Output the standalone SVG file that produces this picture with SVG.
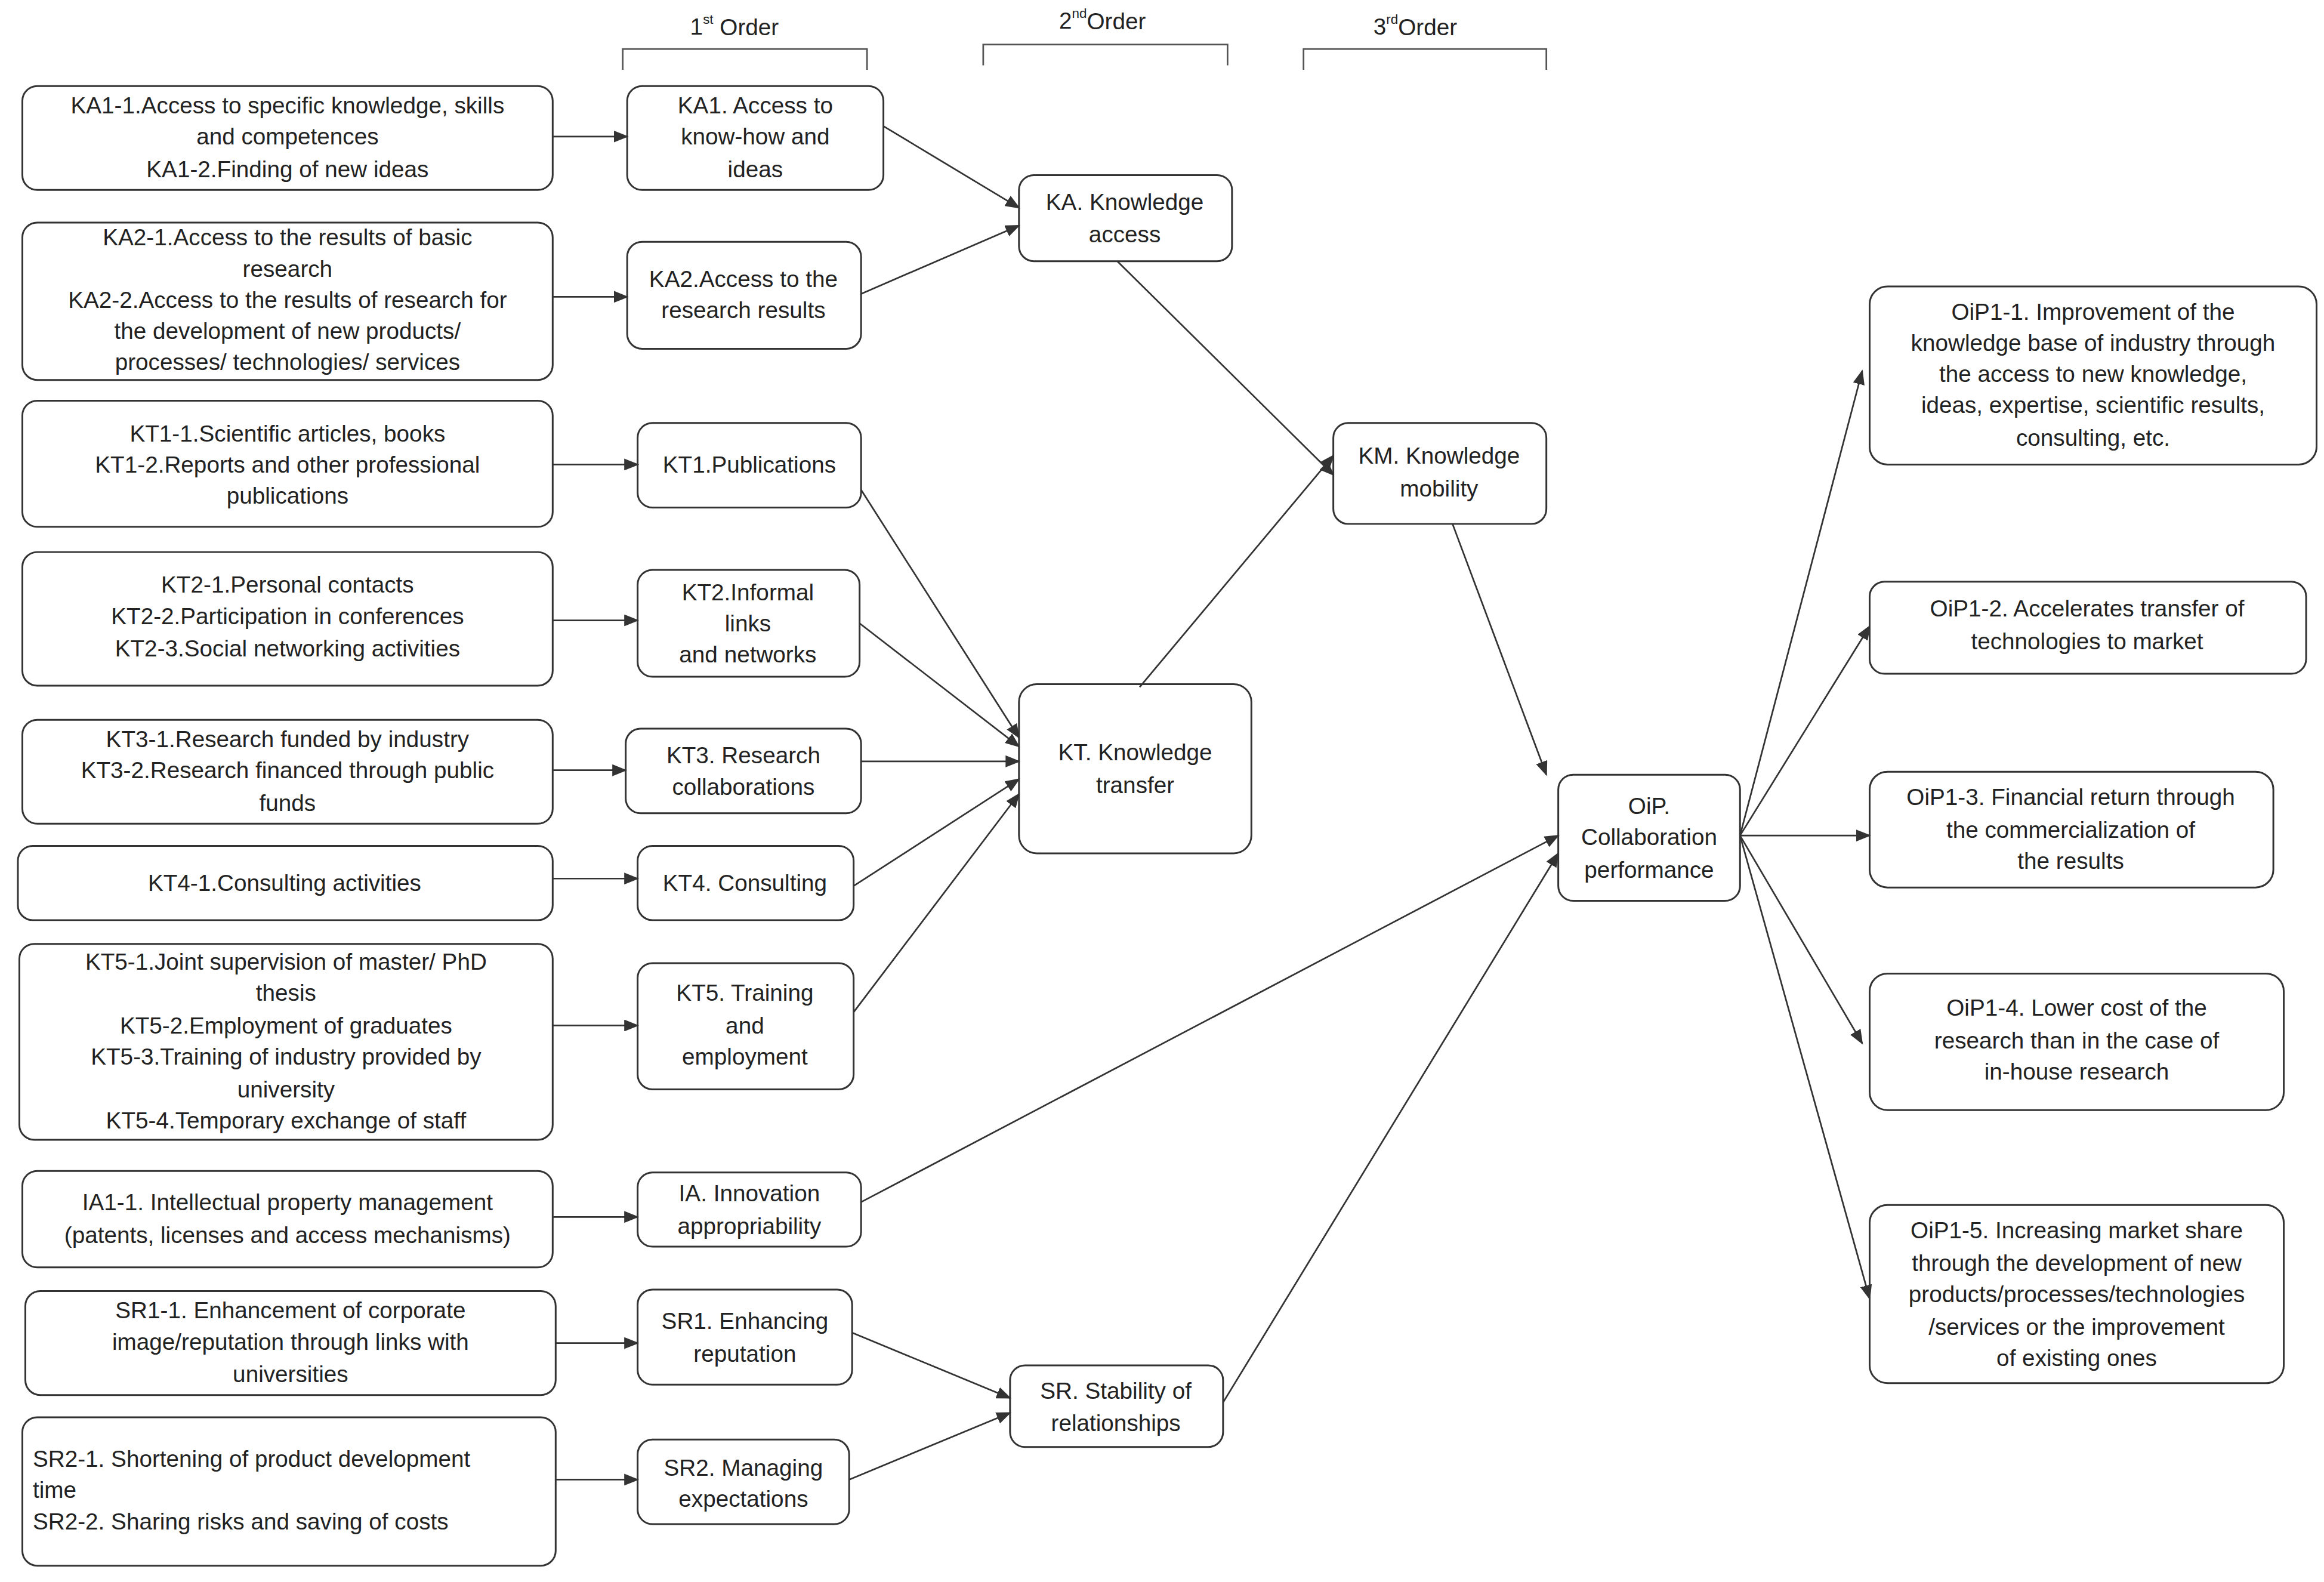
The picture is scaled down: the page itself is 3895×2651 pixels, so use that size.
<svg xmlns="http://www.w3.org/2000/svg" width="3895" height="2651" viewBox="0 0 3895 2651">
<defs>
<marker id="ah" markerWidth="10" markerHeight="8" refX="9" refY="4" orient="auto" markerUnits="userSpaceOnUse"><path d="M0,0 L10,4 L0,8 Z" fill="#333"/></marker>
<style>
rect{fill:#fff;stroke:#333;stroke-width:1.2}
text{font-family:"Liberation Sans",Arial,sans-serif;font-size:15.5px;fill:#222;text-anchor:middle;dominant-baseline:central}
.l{text-anchor:start}
#connectors line{stroke:#333;stroke-width:1.1;marker-end:url(#ah)}
.br{fill:none;stroke:#555;stroke-width:1.1}
</style>
</defs>
<rect x="0" y="0" width="3895" height="2651" style="fill:#fff;stroke:none"/>
<g transform="scale(2.4968,2.4869)">
<g id="headers">
<path class="br" d="M418,47 V33 H582 V47"/><text x="493" y="18">1<tspan font-size="9" dy="-5">st</tspan><tspan dy="5"> Order</tspan></text>
<path class="br" d="M660,44 V30 H824 V44"/><text x="740" y="14">2<tspan font-size="9" dy="-5">nd</tspan><tspan dy="5">Order</tspan></text>
<path class="br" d="M875,47 V33 H1038 V47"/><text x="950" y="18">3<tspan font-size="9" dy="-5">rd</tspan><tspan dy="5">Order</tspan></text>
</g>
<g id="KA1-1"><rect x="15" y="58" width="356" height="70" rx="10"/><text x="193" y="71">KA1-1.Access to specific knowledge, skills</text><text x="193" y="92">and competences</text><text x="193" y="114">KA1-2.Finding of new ideas</text></g>
<g id="KA2-1"><rect x="15" y="150" width="356" height="106" rx="10"/><text x="193" y="160">KA2-1.Access to the results of basic</text><text x="193" y="181">research</text><text x="193" y="202">KA2-2.Access to the results of research for</text><text x="193" y="223">the development of new products/</text><text x="193" y="244">processes/ technologies/ services</text></g>
<g id="KT1-1"><rect x="15" y="270" width="356" height="85" rx="10"/><text x="193" y="292">KT1-1.Scientific articles, books</text><text x="193" y="313">KT1-2.Reports and other professional</text><text x="193" y="334">publications</text></g>
<g id="KT2-1"><rect x="15" y="372" width="356" height="90" rx="10"/><text x="193" y="394">KT2-1.Personal contacts</text><text x="193" y="415">KT2-2.Participation in conferences</text><text x="193" y="437">KT2-3.Social networking activities</text></g>
<g id="KT3-1"><rect x="15" y="485" width="356" height="70" rx="10"/><text x="193" y="498">KT3-1.Research funded by industry</text><text x="193" y="519">KT3-2.Research financed  through public</text><text x="193" y="541">funds</text></g>
<g id="KT4-1"><rect x="12" y="570" width="359" height="50" rx="10"/><text x="191" y="595">KT4-1.Consulting activities</text></g>
<g id="KT5-1"><rect x="13" y="636" width="358" height="132" rx="10"/><text x="192" y="648">KT5-1.Joint supervision of master/ PhD</text><text x="192" y="669">thesis</text><text x="192" y="691">KT5-2.Employment of graduates</text><text x="192" y="712">KT5-3.Training of industry provided by</text><text x="192" y="734">university</text><text x="192" y="755">KT5-4.Temporary exchange of staff</text></g>
<g id="IA1-1"><rect x="15" y="789" width="356" height="65" rx="10"/><text x="193" y="810">IA1-1. Intellectual property management</text><text x="193" y="832">(patents, licenses and access mechanisms)</text></g>
<g id="SR1-1"><rect x="17" y="870" width="356" height="70" rx="10"/><text x="195" y="883">SR1-1. Enhancement of corporate</text><text x="195" y="904">image/reputation through links with</text><text x="195" y="926">universities</text></g>
<g id="SR2-1"><rect x="15" y="955" width="358" height="100" rx="10"/><text class="l" x="22" y="983">SR2-1. Shortening of product development</text><text class="l" x="22" y="1004">time</text><text class="l" x="22" y="1025">SR2-2. Sharing risks and saving of costs</text></g>
<g id="KA1"><rect x="421" y="58" width="172" height="70" rx="10"/><text x="507" y="71">KA1. Access to</text><text x="507" y="92">know-how and</text><text x="507" y="114">ideas</text></g>
<g id="KA2"><rect x="421" y="163" width="157" height="72" rx="10"/><text x="499" y="188">KA2.Access to the</text><text x="499" y="209">research results</text></g>
<g id="KT1"><rect x="428" y="285" width="150" height="57" rx="10"/><text x="503" y="313">KT1.Publications</text></g>
<g id="KT2"><rect x="428" y="384" width="149" height="72" rx="10"/><text x="502" y="399">KT2.Informal</text><text x="502" y="420">links</text><text x="502" y="441">and networks</text></g>
<g id="KT3"><rect x="420" y="491" width="158" height="57" rx="10"/><text x="499" y="509">KT3. Research</text><text x="499" y="530">collaborations</text></g>
<g id="KT4"><rect x="428" y="570" width="145" height="50" rx="10"/><text x="500" y="595">KT4. Consulting</text></g>
<g id="KT5"><rect x="428" y="649" width="145" height="85" rx="10"/><text x="500" y="669">KT5. Training</text><text x="500" y="691">and</text><text x="500" y="712">employment</text></g>
<g id="IA"><rect x="428" y="790" width="150" height="50" rx="10"/><text x="503" y="804">IA. Innovation</text><text x="503" y="826">appropriability</text></g>
<g id="SR1"><rect x="428" y="869" width="144" height="64" rx="10"/><text x="500" y="890">SR1. Enhancing</text><text x="500" y="912">reputation</text></g>
<g id="SR2"><rect x="428" y="970" width="142" height="57" rx="10"/><text x="499" y="989">SR2. Managing</text><text x="499" y="1010">expectations</text></g>
<g id="KA"><rect x="684" y="118" width="143" height="58" rx="10"/><text x="755" y="136">KA. Knowledge</text><text x="755" y="158">access</text></g>
<g id="KT"><rect x="684" y="461" width="156" height="114" rx="12"/><text x="762" y="507">KT. Knowledge</text><text x="762" y="529">transfer</text></g>
<g id="SR"><rect x="678" y="920" width="143" height="55" rx="10"/><text x="749" y="937">SR. Stability of</text><text x="749" y="959">relationships</text></g>
<g id="KM"><rect x="895" y="285" width="143" height="68" rx="10"/><text x="966" y="307">KM. Knowledge</text><text x="966" y="329">mobility</text></g>
<g id="OiP"><rect x="1046" y="522" width="122" height="85" rx="10"/><text x="1107" y="543">OiP.</text><text x="1107" y="564">Collaboration</text><text x="1107" y="586">performance</text></g>
<g id="OiP1-1"><rect x="1255" y="193" width="300" height="120" rx="12"/><text x="1405" y="210">OiP1-1. Improvement of the</text><text x="1405" y="231">knowledge base of industry through</text><text x="1405" y="252">the access to new knowledge,</text><text x="1405" y="273">ideas, expertise, scientific results,</text><text x="1405" y="295">consulting, etc.</text></g>
<g id="OiP1-2"><rect x="1255" y="392" width="293" height="62" rx="10"/><text x="1401" y="410">OiP1-2. Accelerates transfer of</text><text x="1401" y="432">technologies to market</text></g>
<g id="OiP1-3"><rect x="1255" y="520" width="271" height="78" rx="12"/><text x="1390" y="537">OiP1-3. Financial return through</text><text x="1390" y="559">the commercialization of</text><text x="1390" y="580">the results</text></g>
<g id="OiP1-4"><rect x="1255" y="656" width="278" height="92" rx="12"/><text x="1394" y="679">OiP1-4. Lower cost of the</text><text x="1394" y="701">research than in the case of</text><text x="1394" y="722">in-house research</text></g>
<g id="OiP1-5"><rect x="1255" y="812" width="278" height="120" rx="12"/><text x="1394" y="829">OiP1-5. Increasing market share</text><text x="1394" y="851">through the development of new</text><text x="1394" y="872">products/processes/technologies</text><text x="1394" y="894">/services or the improvement</text><text x="1394" y="915">of existing ones</text></g>
<g id="connectors">
<line x1="371" y1="92" x2="421" y2="92"/>
<line x1="371" y1="200" x2="421" y2="200"/>
<line x1="371" y1="313" x2="428" y2="313"/>
<line x1="371" y1="418" x2="428" y2="418"/>
<line x1="371" y1="519" x2="420" y2="519"/>
<line x1="371" y1="592" x2="428" y2="592"/>
<line x1="371" y1="691" x2="428" y2="691"/>
<line x1="371" y1="820" x2="428" y2="820"/>
<line x1="373" y1="905" x2="428" y2="905"/>
<line x1="373" y1="997" x2="428" y2="997"/>
<line x1="593" y1="85" x2="684" y2="140"/>
<line x1="578" y1="198" x2="684" y2="152"/>
<line x1="578" y1="330" x2="684" y2="497"/>
<line x1="577" y1="420" x2="684" y2="503"/>
<line x1="578" y1="513" x2="684" y2="513"/>
<line x1="573" y1="597" x2="684" y2="525"/>
<line x1="573" y1="682" x2="684" y2="535"/>
<line x1="750" y1="176" x2="895" y2="320"/>
<line x1="765" y1="463" x2="895" y2="307"/>
<line x1="578" y1="810" x2="1046" y2="563"/>
<line x1="572" y1="898" x2="678" y2="942"/>
<line x1="570" y1="997" x2="678" y2="952"/>
<line x1="821" y1="945" x2="1046" y2="575"/>
<line x1="975" y1="353" x2="1038" y2="522"/>
<line x1="1168" y1="563" x2="1250" y2="250"/>
<line x1="1168" y1="563" x2="1255" y2="422"/>
<line x1="1168" y1="563" x2="1255" y2="563"/>
<line x1="1168" y1="563" x2="1250" y2="703"/>
<line x1="1168" y1="563" x2="1255" y2="875"/>
</g>
</g>
</svg>
